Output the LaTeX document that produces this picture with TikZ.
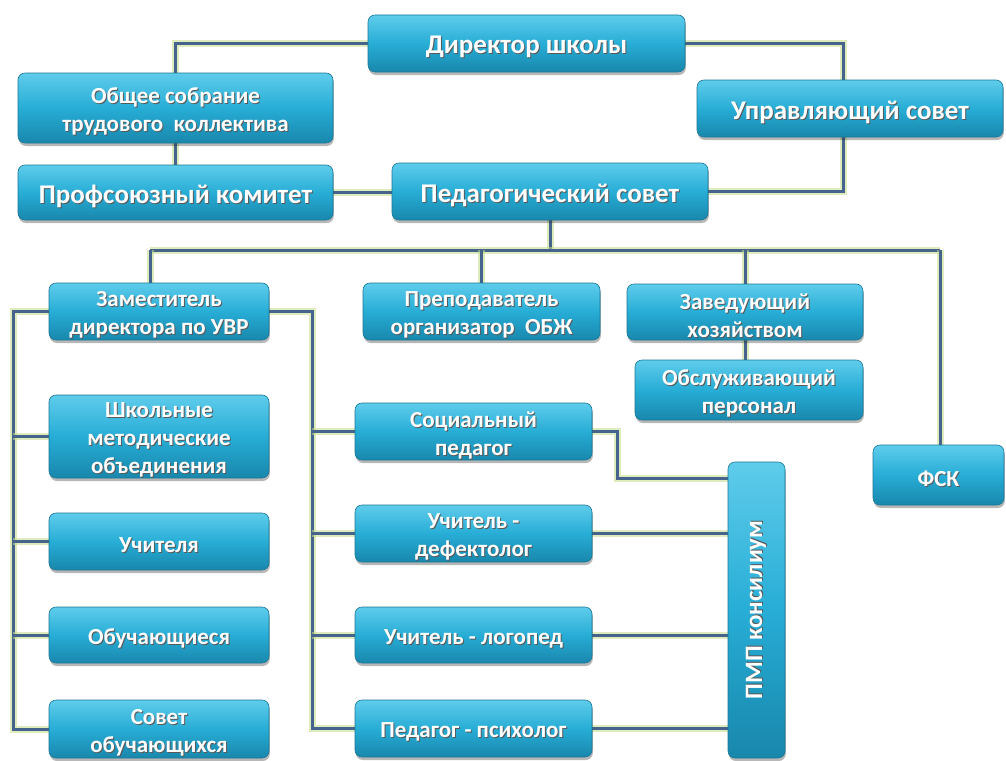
\documentclass[tikz,border=0pt]{standalone}
\usepackage{fontspec}
\setmainfont{Carlito}
\usetikzlibrary{shadows}
\pgfdeclarelayer{paper}
\pgfdeclarelayer{wires}
\pgfsetlayers{paper,wires,main}
\definecolor{boxtop}{HTML}{5FCCEB}
\definecolor{boxmid}{HTML}{27ADD6}
\definecolor{boxbot}{HTML}{1987AC}
\definecolor{boxedge}{HTML}{1A7898}
\definecolor{linec}{HTML}{45638C}
\definecolor{glowc}{HTML}{C4DC86}
\newcommand\tshraw[1]{\rlap{\kern1pt\raisebox{-1pt}{\textcolor{black!65}{#1}}}#1}
\newcommand\tsh[1]{\leavevmode\raisebox{-4pt}[\height][\depth]{\tshraw{#1}}}
\newcommand\tsho[1]{\leavevmode\tshraw{#1}}
\tikzset{
  box/.style={draw=boxedge, line width=0.6pt, rounded corners=7pt,
    top color=boxtop, bottom color=boxbot, middle color=boxmid,
    text=white, align=center, inner sep=1pt,
    font=\bfseries\fontsize{23}{28}\selectfont,
    drop shadow={shadow xshift=0.8pt, shadow yshift=-3pt, opacity=0.35, fill=black!80}},
  bigbox/.style={box, font=\bfseries\fontsize{27}{30}\selectfont},
  link/.style={draw=linec, line width=3pt, line join=miter,
    preaction={draw=glowc, line width=7pt, opacity=0.55}}
}
\begin{document}
\begin{tikzpicture}[x=1pt,y=-1pt]
\begin{pgfonlayer}{paper}
\fill[white] (0,0) rectangle (1006,760);
\end{pgfonlayer}
\useasboundingbox (0,0) rectangle (1006,760);
\coordinate (busL) at (150,250);
\coordinate (busR) at (940,250);
\coordinate (ls) at (13,311);
\coordinate (rs) at (312,311);
\coordinate (sk) at (617,478);
\coordinate (upj) at (843,185);
% nodes
\node[bigbox, minimum width=317pt, minimum height=57pt] (dir) at (526.5,43.5) {\tsh{Директор школы}};
\node[box, minimum width=315pt, minimum height=70pt] (obsh) at (175.5,108) {\tsh{Общее собрание}\\\tsh{трудового\ \ коллектива}};
\node[bigbox, minimum width=315pt, minimum height=55pt] (prof) at (175.5,192.5) {\tsh{Профсоюзный комитет}};
\node[bigbox, minimum width=316pt, minimum height=57pt] (ped) at (550,191.5) {\tsh{Педагогический совет}};
\node[bigbox, minimum width=306pt, minimum height=57pt] (upr) at (850,108.5) {\tsh{Управляющий совет}};
\node[box, minimum width=220pt, minimum height=57pt] (zam) at (159,311.5) {\tsh{Заместитель}\\\tsh{директора по УВР}};
\node[box, minimum width=237pt, minimum height=57pt] (prep) at (481.5,311.5) {\tsh{Преподаватель}\\\tsh{организатор\ \ ОБЖ}};
\node[box, minimum width=236pt, minimum height=56pt] (zav) at (745,312) {\tsh{Заведующий}\\\tsh{хозяйством}};
\node[box, minimum width=228pt, minimum height=60pt] (obsl) at (749,390) {\tsh{Обслуживающий}\\\tsh{персонал}};
\node[box, minimum width=131pt, minimum height=60pt] (fsk) at (938.5,475) {\tsh{ФСК}};
\node[box, minimum width=220pt, minimum height=83pt] (shmo) at (159,436.5) {\tsh{Школьные}\\\tsh{методические}\\\tsh{объединения}};
\node[box, minimum width=220pt, minimum height=57pt] (uch) at (159,541.5) {\tsh{Учителя}};
\node[box, minimum width=220pt, minimum height=56pt] (obuch) at (159,635) {\tsh{Обучающиеся}};
\node[box, minimum width=220pt, minimum height=58pt] (sovet) at (159,729) {\tsh{Совет}\\\tsh{обучающихся}};
\node[box, minimum width=237pt, minimum height=57pt] (soc) at (473.5,431.5) {\tsh{Социальный}\\\tsh{педагог}};
\node[box, minimum width=237pt, minimum height=57pt] (def) at (473.5,533.5) {\tsh{Учитель -}\\\tsh{дефектолог}};
\node[box, minimum width=237pt, minimum height=56pt] (log) at (473.5,635) {\tsh{Учитель - логопед}};
\node[box, minimum width=237pt, minimum height=57pt] (psy) at (473.5,728.5) {\tsh{Педагог - психолог}};
\node[box, minimum width=57pt, minimum height=296pt] (pmp) at (756.5,610) {};
\node[text=white, font=\bfseries\fontsize{25}{28}\selectfont, rotate=90] (pmpt) at (pmp.center) {\tsho{ПМП консилиум}};
% connectors
\begin{pgfonlayer}{wires}
\draw[link] (dir.west) -| (obsh.north);
\draw[link] (dir.east) -| (upr.north -| upj);
\draw[link] (upr.south -| upj) |- (ped.east);
\draw[link] (obsh.south) -- (prof.north);
\draw[link] (prof.east) -- (prof.east -| ped.west);
\draw[link] (ped.south) -- (ped.south |- busL);
\draw[link] (busL) -- (busR);
\draw[link] (busL) -- (busL |- zam.north);
\draw[link] (prep.north |- busL) -- (prep.north);
\draw[link] (zav.north |- busL) -- (zav.north);
\draw[link] (busR) -- (busR |- fsk.north);
\draw[link] (zav.south) -- (zav.south |- obsl.north);
\draw[link] (zam.west) -- (zam.west -| ls) |- (sovet.west);
\draw[link] (shmo.west -| ls) -- (shmo.west);
\draw[link] (uch.west -| ls) -- (uch.west);
\draw[link] (obuch.west -| ls) -- (obuch.west);
\draw[link] (zam.east) -- (zam.east -| rs) |- (psy.west);
\draw[link] (soc.west -| rs) -- (soc.west);
\draw[link] (def.west -| rs) -- (def.west);
\draw[link] (log.west -| rs) -- (log.west);
\draw[link] (soc.east) -| (sk) -- (sk -| pmp.west);
\draw[link] (def.east) -- (def.east -| pmp.west);
\draw[link] (log.east) -- (log.east -| pmp.west);
\draw[link] (psy.east) -- (psy.east -| pmp.west);
\end{pgfonlayer}
\end{tikzpicture}
\end{document}
